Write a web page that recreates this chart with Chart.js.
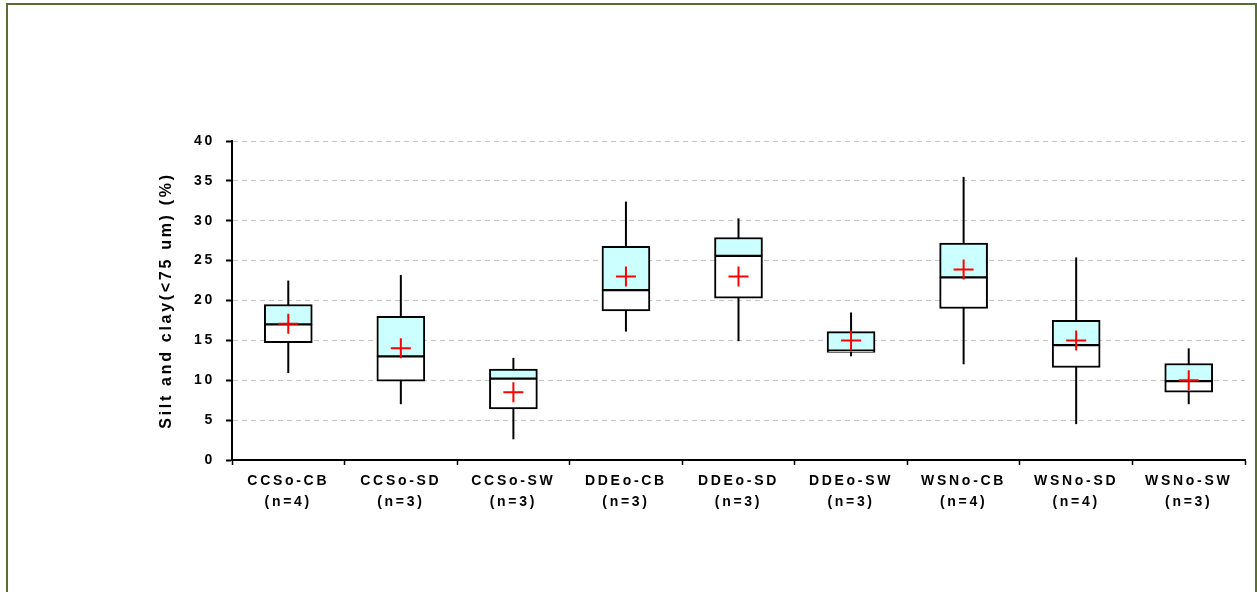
<!DOCTYPE html>
<html>
<head>
<meta charset="utf-8">
<title>Silt and clay box plot</title>
<script src="https://cdn.jsdelivr.net/npm/chart.js@4"></script>
<style>
  html, body { margin: 0; padding: 0; background: #fff; }
  #frame {
    position: absolute; left: 6px; top: 3px; width: 1251px; height: 620px;
    box-sizing: border-box; border: 2px solid #5b6e2f; border-bottom: none;
  }
  #wrap { position: absolute; left: 0; top: 0; width: 1257px; height: 592px; }
</style>
</head>
<body>
<div id="frame"></div>
<div id="wrap"><canvas id="myChart"></canvas></div>
<script>
var categories = ["CCSo-CB", "CCSo-SD", "CCSo-SW", "DDEo-CB", "DDEo-SD", "DDEo-SW", "WSNo-CB", "WSNo-SD", "WSNo-SW"];
var counts = [4, 3, 3, 3, 3, 3, 4, 4, 3];

var mins    = [10.9, 7.0, 2.6, 16.1, 14.9, 13.0, 12.0, 4.5, 7.0];
var q1      = [14.7, 9.9, 6.4, 18.7, 20.3, 13.5, 19.0, 11.6, 8.5];
var medians = [17.0, 13.0, 10.2, 21.3, 25.6, 13.7, 22.9, 14.4, 9.9];
var q3      = [19.5, 18.0, 11.4, 26.8, 27.9, 16.1, 27.2, 17.5, 12.1];
var maxs    = [22.5, 23.2, 12.8, 32.4, 30.3, 18.5, 35.5, 25.4, 14.0];
var means   = [17.1, 14.0, 8.5, 23.0, 23.0, 15.0, 23.9, 15.0, 10.0];

var yTicks = [0, 5, 10, 15, 20, 25, 30, 35, 40];

var labels = categories.map(function (c, i) { return [c, "(n=" + counts[i] + ")"]; });

Chart.defaults.font.family = "Arial, 'Liberation Sans', sans-serif";
Chart.defaults.color = "#000";

// the original export spreads its letters out a bit
const spacing = {
  id: "spacing",
  beforeDraw(chart) { chart.ctx.letterSpacing = "2.7px"; },
  afterDraw(chart) { chart.ctx.letterSpacing = "0px"; }
};

new Chart("myChart", {
  type: "bar",
  data: {
    labels: labels,
    datasets: [
      {
        label: "range",
        data: mins.map(function (v, i) { return [v, maxs[i]]; }),
        backgroundColor: "#000",
        barThickness: 2,
        inflateAmount: 0,
        grouped: false,
        order: 3
      },
      {
        label: "lower",
        data: q1.map(function (v, i) { return [v, medians[i]]; }),
        backgroundColor: "#fff",
        borderColor: "#000",
        borderWidth: { top: 1.5, bottom: 2, left: 2, right: 2 },
        borderSkipped: false,
        barThickness: 48,
        grouped: false,
        order: 2
      },
      {
        label: "upper",
        data: medians.map(function (v, i) { return [v, q3[i]]; }),
        backgroundColor: "#ccffff",
        borderColor: "#000",
        borderWidth: { top: 2, bottom: 1.5, left: 2, right: 2 },
        borderSkipped: false,
        barThickness: 48,
        grouped: false,
        order: 2
      },
      {
        type: "line",
        label: "mean",
        data: means,
        showLine: false,
        pointStyle: "cross",
        pointRadius: 10,
        pointHoverRadius: 10,
        pointBorderColor: "#ff0000",
        pointBorderWidth: 2,
        order: 1
      }
    ]
  },
  options: {
    responsive: true,
    maintainAspectRatio: false,
    animation: false,
    events: [],
    layout: { padding: { left: 150, right: 11, top: 141, bottom: 62 } },
    plugins: {
      legend: { display: false },
      tooltip: { enabled: false }
    },
    scales: {
      x: {
        offset: true,
        grid: { offset: true, drawOnChartArea: false, tickLength: 5, tickColor: "#000", tickWidth: 1.5 },
        border: { color: "#000", width: 2 },
        ticks: {
          autoSkip: false, maxRotation: 0, padding: 5,
          font: { size: 14, weight: "bold", lineHeight: 1.54 }
        },
        afterFit: function (s) { s.height = 70; }
      },
      y: {
        min: 0,
        max: 40,
        afterBuildTicks: function (s) { s.ticks = yTicks.map(function (v) { return { value: v }; }); },
        grid: { color: "#c4c4c4", lineWidth: 1, tickLength: 6, tickColor: "#000", tickWidth: 2 },
        border: { color: "#000", width: 2, dash: [5, 4] },
        ticks: { padding: 11, font: { size: 14, weight: "bold" } },
        title: {
          display: true,
          text: "Silt and clay(<75 um) (%)",
          font: { size: 16, weight: "bold" },
          padding: { top: 7, bottom: 4 }
        },
        afterFit: function (s) { s.width = 82; }
      }
    }
  },
  plugins: [spacing]
});
</script>
</body>
</html>
